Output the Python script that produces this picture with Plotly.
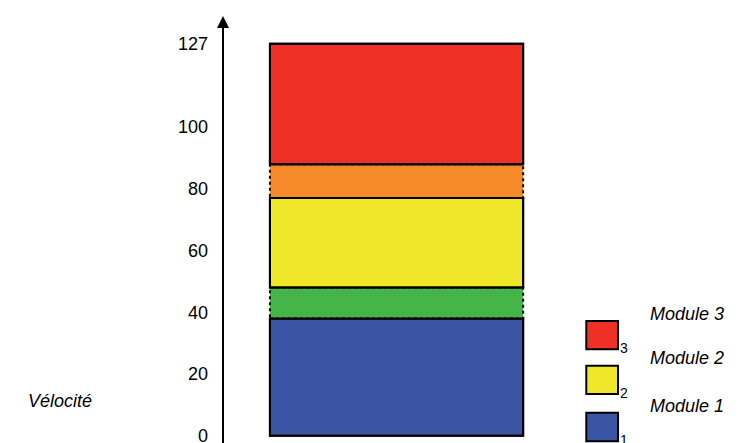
import plotly.graph_objects as go

# velocity zones (bottom, top) and colours
zone_bottom = [0, 38, 48, 77, 88]
zone_top = [38, 48, 77, 88, 127]
zone_color = ["#3a55a4", "#45b549", "#efe82a", "#f6892a", "#ee3124"]
zone_dash = ["solid", "dot", "solid", "dot", "solid"]

tick_vals = [0, 20, 40, 60, 80, 100, 127]

legend_names = ["Module 3", "Module 2", "Module 1"]
legend_sub = ["3", "2", "1"]
legend_color = ["#ee3124", "#efe82a", "#3a55a4"]

fig = go.Figure()
fig.add_trace(go.Scatter(x=[0], y=[0], mode="markers", marker=dict(opacity=0), hoverinfo="skip"))

# bar segments
for b, t, c, d in zip(zone_bottom, zone_top, zone_color, zone_dash):
    fig.add_shape(type="rect", xref="x", yref="y", x0=0.136, x1=0.87, y0=b, y1=t,
                  fillcolor=c, line=dict(color="black", width=2, dash=d), layer="above")
for b, t, d in zip(zone_bottom, zone_top, zone_dash):
    if d == "solid":
        fig.add_shape(type="rect", xref="x", yref="y", x0=0.136, x1=0.87, y0=b, y1=t,
                      fillcolor="rgba(0,0,0,0)", line=dict(color="black", width=2))

# axis arrow
fig.add_annotation(x=0, y=136, ax=0, ay=-3, xref="x", yref="y", axref="x", ayref="y",
                   showarrow=True, arrowhead=2, arrowsize=1.2, arrowwidth=2, arrowcolor="black", text="")

fig.add_annotation(x=-0.57, y=0.075, xref="paper", yref="paper", text="<i>Vélocité</i>", showarrow=False,
                   font=dict(size=18, color="black"), xanchor="left")

# custom legend
legend_y = [0.256, 0.152, 0.042]
for name, sub, c, yy in zip(legend_names, legend_sub, legend_color, legend_y):
    fig.add_shape(type="rect", xref="paper", yref="paper", x0=1.053, x1=1.145, y0=yy - 0.033, y1=yy + 0.033,
                  fillcolor=c, line=dict(color="black", width=2))
    fig.add_annotation(x=1.146, y=yy - 0.03, xref="paper", yref="paper", text=sub, showarrow=False,
                       xanchor="left", yanchor="middle", font=dict(size=14, color="black"))
    fig.add_annotation(x=1.232, y=yy + 0.022, xref="paper", yref="paper", text="<i>" + name + "</i>",
                       showarrow=False, xanchor="left", font=dict(size=18, color="black"))

fig.update_layout(
    width=745, height=443, plot_bgcolor="white", paper_bgcolor="white", showlegend=False,
    margin=dict(l=215, r=185, t=8, b=6),
    font=dict(family="Liberation Sans, Arial", size=18, color="black"),
    xaxis=dict(range=[0, 1], visible=False, fixedrange=True),
    yaxis=dict(range=[-3, 136], tickvals=tick_vals, showgrid=False, zeroline=False,
               showline=False, ticks="", ticklabelstandoff=14, tickfont=dict(size=18)),
)

fig.write_html("out.html")
